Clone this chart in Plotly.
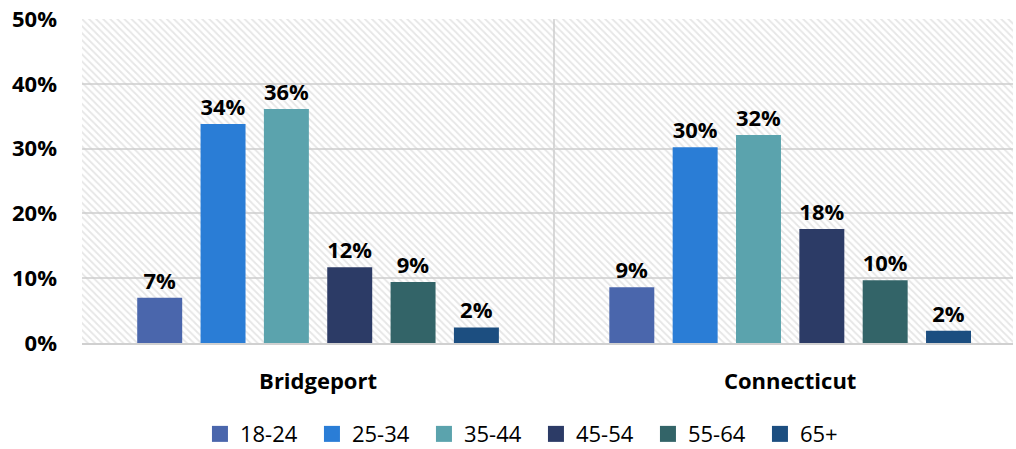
import plotly.graph_objects as go

# ── Data ─────────────────────────────────────────────────────────────────────
regions = ["Bridgeport", "Connecticut"]
age_groups = ["18-24", "25-34", "35-44", "45-54", "55-64", "65+"]
shares = {
    "18-24": [0.07, 0.086],
    "25-34": [0.338, 0.302],
    "35-44": [0.361, 0.321],
    "45-54": [0.117, 0.176],
    "55-64": [0.094, 0.097],
    "65+":   [0.024, 0.019],
}
labels = {
    "18-24": ["7%", "9%"],
    "25-34": ["34%", "30%"],
    "35-44": ["36%", "32%"],
    "45-54": ["12%", "18%"],
    "55-64": ["9%", "10%"],
    "65+":   ["2%", "2%"],
}
y_ticks = [0, 0.1, 0.2, 0.3, 0.4, 0.5]

# ── Style ────────────────────────────────────────────────────────────────────
COLORS = ["#4A66AC", "#2A7DD6", "#5BA3AD", "#2C3B66", "#336468", "#1C4E80"]
GRID = "#D9D9D9"
FONT = "Open Sans"

fig = go.Figure()

# hatched plot-area background (sits on the base axes, bars overlay it)
fig.add_trace(go.Scatter(
    x=[0, 1, 1, 0, 0], y=[0, 0, 1, 1, 0],
    mode="none", fill="toself",
    fillcolor="rgba(0,0,0,0)",
    fillpattern=dict(shape="\\", size=5, solidity=0.35,
                     fgcolor="#CDCDCD", bgcolor="rgba(0,0,0,0)"),
    hoverinfo="skip", showlegend=False,
    xaxis="x", yaxis="y",
))

for age, color in zip(age_groups, COLORS):
    fig.add_trace(go.Bar(
        x=regions, y=shares[age], name=age, showlegend=False,
        marker=dict(color=color, line=dict(width=0)),
        text=labels[age], textposition="outside",
        textfont=dict(family=FONT, size=22, color="#000000", weight="bold"),
        cliponaxis=False,
        xaxis="x2", yaxis="y2",
    ))
    # legend entry with a bigger square swatch than plotly's bar icon
    fig.add_trace(go.Scatter(
        x=[None], y=[None], mode="markers", name=age,
        marker=dict(symbol="square", size=16, color=color),
        xaxis="x2", yaxis="y2",
    ))

fig.update_layout(
    width=1016, height=449,
    paper_bgcolor="white", plot_bgcolor="white",
    margin=dict(l=82, r=3, t=19, b=106),
    barmode="group", bargap=0.195, bargroupgap=0.29,
    font=dict(family=FONT, color="#000000"),
    xaxis=dict(range=[0, 1], visible=False, fixedrange=True),
    yaxis=dict(range=[0, 1], visible=False, fixedrange=True),
    xaxis2=dict(
        overlaying="x", type="category", range=[-0.5, 1.472],
        tickson="boundaries", showgrid=True, gridcolor=GRID, gridwidth=2,
        showline=True, linecolor="#D0D0D0", linewidth=2,
        ticks="", ticklen=0, ticklabelstandoff=18,
        tickfont=dict(family=FONT, size=22, color="#000000", weight="bold"),
    ),
    yaxis2=dict(
        overlaying="y", range=[0, 0.5], tickvals=y_ticks, tickformat=".0%",
        showgrid=True, gridcolor=GRID, gridwidth=2, zeroline=False,
        tickfont=dict(family=FONT, size=22, color="#000000", weight="bold"),
        ticklabelstandoff=24,
    ),
    legend=dict(
        orientation="h", x=0.4876, xanchor="center",
        yref="container", y=0.08, yanchor="top",
        font=dict(family=FONT, size=22, color="#000000"),
        itemsizing="trace", entrywidth=67,
    ),
)

fig.write_html("out.html", config={"displayModeBar": False},
               post_script="document.body.style.margin='0';")
